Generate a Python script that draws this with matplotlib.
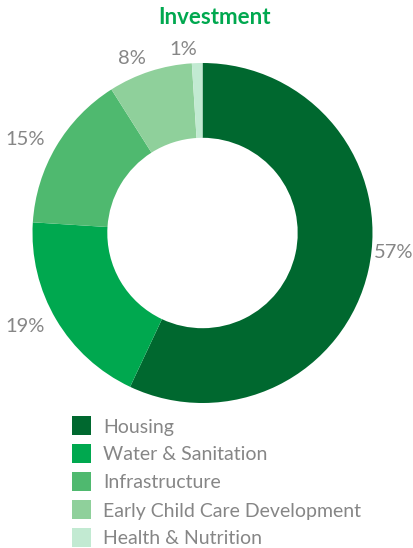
import numpy as np
import matplotlib
matplotlib.use("Agg")
import matplotlib.pyplot as plt
from matplotlib.patches import Rectangle

categories = ["Housing", "Water & Sanitation", "Infrastructure",
              "Early Child Care Development", "Health & Nutrition"]
shares = [57, 19, 15, 8, 1]
colors = ["#00682f", "#00a84f", "#4fb96f", "#8fd09b", "#c2ead2"]

W, H, DPI = 414, 548, 100
fig = plt.figure(figsize=(W / DPI, H / DPI), dpi=DPI)
fig.patch.set_facecolor("white")

# donut geometry in pixels
cx, cy, R = 202.5, 233, 170
span = 1.25
ax = fig.add_axes([(cx - span * R) / W, (H - cy - span * R) / H,
                   2 * span * R / W, 2 * span * R / H])
ax.set_xlim(-span, span)
ax.set_ylim(-span, span)
ax.axis("off")

text_grey = "#868686"
wedges, texts = ax.pie(
    shares, colors=colors, startangle=90, counterclock=False, radius=1.0,
    labels=[f"{v}%" for v in shares], labeldistance=1.08,
    wedgeprops=dict(width=0.44, edgecolor="none"),
    textprops=dict(color=text_grey, fontsize=14.5, family="Lato",
                   fontweight="normal"),
)
ax.set_aspect("equal")
# lift the largest label a little, as it sits near the horizontal
x0, y0 = texts[0].get_position()
texts[0].set_position((x0 - 0.045, y0 + 0.12))
texts[0].set_va("center")

fig.text(215 / W, 1 - 18 / H, "Investment", ha="center", va="center",
         color="#00a84f", fontsize=16, fontweight="bold", family="Lato")

# legend
row0, step = 426, 28
for i, (lab, col) in enumerate(zip(categories, colors)):
    yc = row0 + i * step
    fig.add_artist(Rectangle((72 / W, 1 - (yc + 9) / H), 19 / W, 19 / H,
                             transform=fig.transFigure, facecolor=col,
                             edgecolor="none"))
    fig.text(103 / W, 1 - (yc + 1) / H, lab, ha="left", va="center",
             color=text_grey, fontsize=14, family="Lato", fontweight="normal")

fig.savefig("out.png", dpi=DPI, facecolor="white")
